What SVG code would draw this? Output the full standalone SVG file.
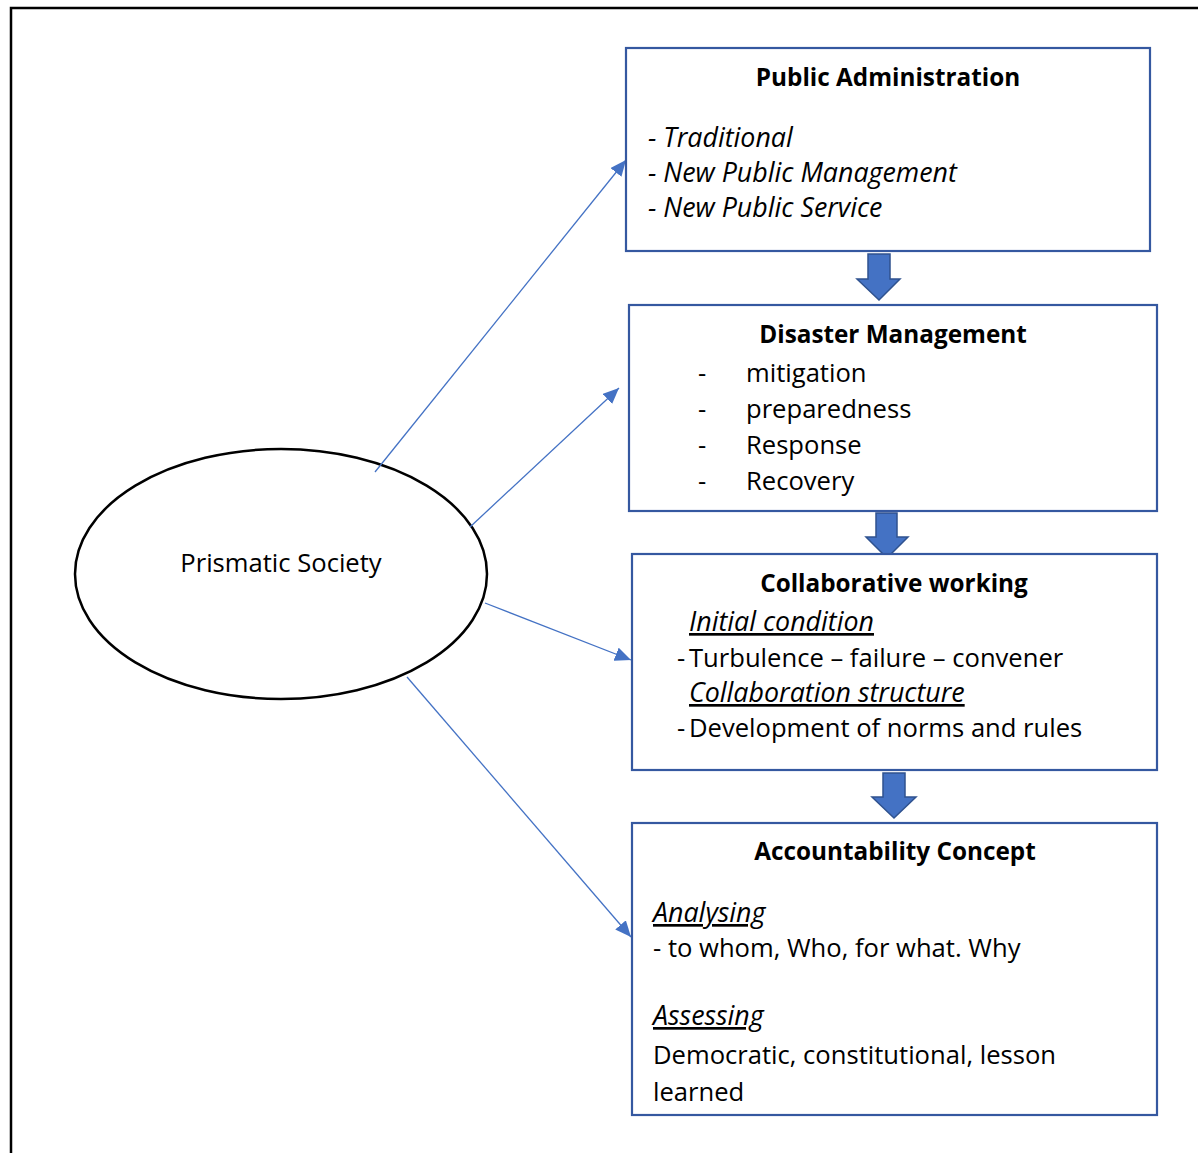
<svg xmlns="http://www.w3.org/2000/svg" width="1198" height="1153" viewBox="0 0 1198 1153">
<style>
.box{fill:#fff;stroke:#3558a0;stroke-width:2.2}
.t{font-family:"Open Sans",Lato,"Liberation Sans",sans-serif;font-size:25.6px;fill:#000}
.b{font-weight:bold;text-anchor:middle;font-size:24.3px}
.i{font-style:italic;font-size:26.8px}
.u{text-decoration:underline}
.con{stroke:#4472c4;stroke-width:1.3;fill:none;marker-end:url(#ah)}
.blk{fill:#4472c4;stroke:#2f528f;stroke-width:1.5}
</style>
<defs>
<marker id="ah" markerUnits="userSpaceOnUse" markerWidth="18" markerHeight="14" refX="16" refY="7" orient="auto">
<path d="M0,0 L16,7 L0,14 Z" fill="#4472c4"/>
</marker>
</defs>
<rect width="1198" height="1153" fill="#fff"/>
<path d="M11,1153 V8 H1198" fill="none" stroke="#000" stroke-width="2.5"/>

<g id="prismatic">
<ellipse cx="281" cy="574" rx="206" ry="125" fill="#fff" stroke="#000" stroke-width="2.5"/>
<text class="t" x="281" y="572" text-anchor="middle">Prismatic Society</text>
</g>

<g id="connectors">
<line class="con" x1="375" y1="472" x2="626" y2="160"/>
<line class="con" x1="470" y1="527" x2="619" y2="388"/>
<line class="con" x1="485" y1="603" x2="631" y2="660"/>
<line class="con" x1="407" y1="677" x2="631" y2="937"/>
<path class="blk" d="M868,254 H890 V279 H900 L879,300 L857,279 H868 Z"/>
<path class="blk" d="M876,513 H897 V537 H908 L887,558 L866,537 H876 Z"/>
<path class="blk" d="M883,773 H905 V797 H916 L894,818 L872,797 H883 Z"/>
</g>

<g id="public-administration">
<rect class="box" x="626" y="48" width="524" height="203"/>
<text class="t b" x="888" y="86">Public Administration</text>
<text class="t i" x="648" y="147">- Traditional</text>
<text class="t i" x="648" y="182">- New Public Management</text>
<text class="t i" x="648" y="217">- New Public Service</text>
</g>

<g id="disaster-management">
<rect class="box" x="629" y="305" width="528" height="206"/>
<text class="t b" x="893" y="343">Disaster Management</text>
<text class="t" x="698" y="382">-</text><text class="t" x="746" y="382">mitigation</text>
<text class="t" x="698" y="418">-</text><text class="t" x="746" y="418">preparedness</text>
<text class="t" x="698" y="454">-</text><text class="t" x="746" y="454">Response</text>
<text class="t" x="698" y="490">-</text><text class="t" x="746" y="490">Recovery</text>
</g>

<g id="collaborative-working">
<rect class="box" x="632" y="554" width="525" height="216"/>
<text class="t b" x="894" y="592">Collaborative working</text>
<text class="t i u" x="689" y="631">Initial condition</text>
<text class="t" x="677" y="667">-</text><text class="t" x="689" y="667">Turbulence – failure – convener</text>
<text class="t i u" x="689" y="702">Collaboration structure</text>
<text class="t" x="677" y="737">-</text><text class="t" x="689" y="737">Development of norms and rules</text>
</g>

<g id="accountability-concept">
<rect class="box" x="632" y="823" width="525" height="292"/>
<text class="t b" x="895" y="860">Accountability Concept</text>
<text class="t i u" x="653" y="922">Analysing</text>
<text class="t" x="653" y="957">- to whom, Who, for what. Why</text>
<text class="t i u" x="653" y="1025">Assessing</text>
<text class="t" x="653" y="1064">Democratic, constitutional, lesson</text>
<text class="t" x="653" y="1101">learned</text>
</g>
</svg>
